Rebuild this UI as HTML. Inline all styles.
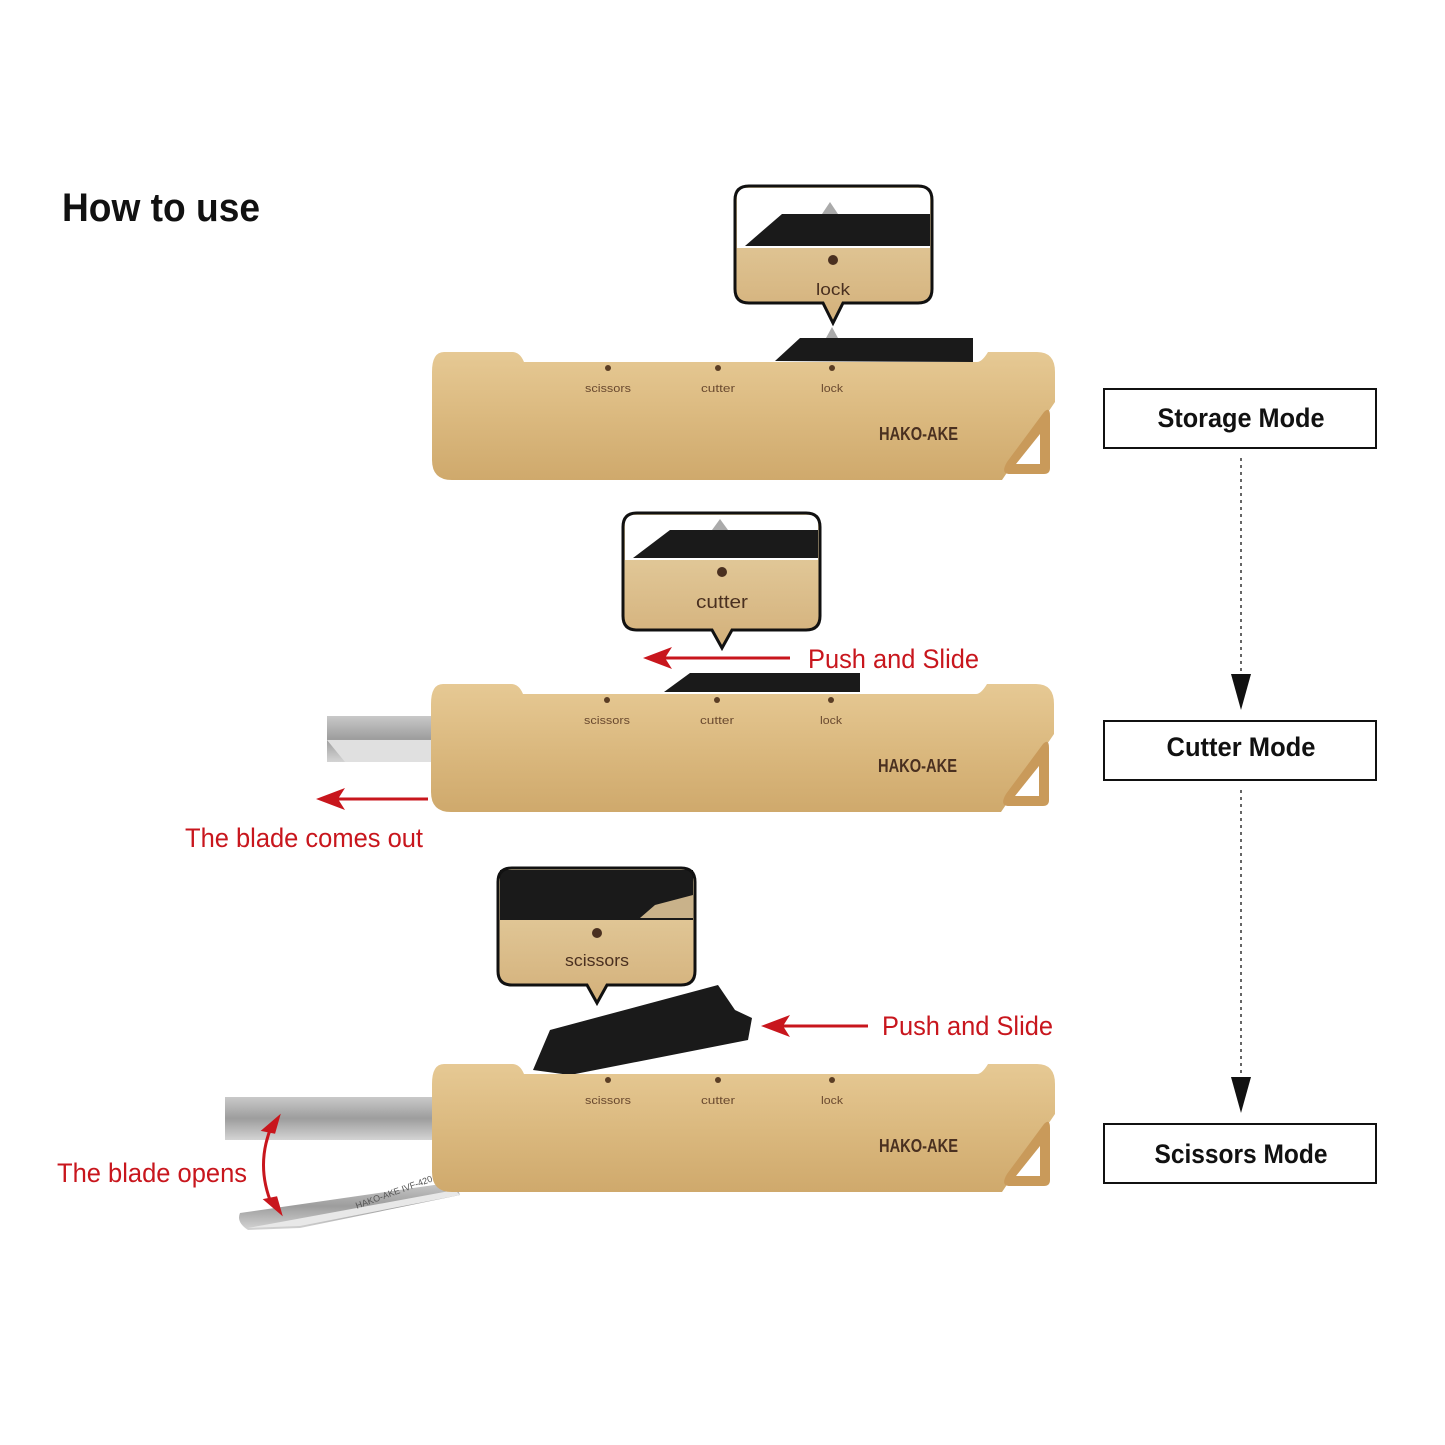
<!DOCTYPE html>
<html><head><meta charset="utf-8"><style>
html,body{margin:0;padding:0;background:#fff}
svg{display:block}
text{font-family:"Liberation Sans",sans-serif}
</style></head><body>
<svg width="1445" height="1445" viewBox="0 0 1445 1445" xmlns="http://www.w3.org/2000/svg">
<defs>
<linearGradient id="tan" x1="0" y1="0" x2="0" y2="1">
<stop offset="0" stop-color="#e6c994"/><stop offset="0.5" stop-color="#dbb97f"/><stop offset="1" stop-color="#cfa96c"/>
</linearGradient>
<linearGradient id="tan2" x1="0" y1="0" x2="0" y2="1">
<stop offset="0" stop-color="#e8d3a6"/><stop offset="1" stop-color="#d3b07a"/>
</linearGradient>
<linearGradient id="steel" x1="0" y1="0" x2="0" y2="1">
<stop offset="0" stop-color="#c9c9c9"/><stop offset="0.5" stop-color="#9d9d9d"/><stop offset="1" stop-color="#d4d4d4"/>
</linearGradient>
<g id="body">
<path d="M12,2 H80 Q88,2 92,12 H545 Q550,12 556,2 H605 Q623,2 623,22 V52 L570,130 H20 Q0,130 0,110 V22 Q0,2 12,2 Z" fill="url(#tan)"/>
<path d="M575,112 L612,62 Q618,56 618,66 V118 Q618,124 612,124 H578 Q568,124 575,112 Z" fill="#c99a5a"/>
<path d="M584,114 L608,84 V114 Z" fill="#fff"/>
<circle cx="176" cy="18" r="3" fill="#5a3d24"/><circle cx="286" cy="18" r="3" fill="#5a3d24"/><circle cx="400" cy="18" r="3" fill="#5a3d24"/>
<text x="176" y="42" font-size="11" fill="#6a4a30" text-anchor="middle" textLength="46" lengthAdjust="spacingAndGlyphs">scissors</text>
<text x="286" y="42" font-size="11" fill="#6a4a30" text-anchor="middle" textLength="34" lengthAdjust="spacingAndGlyphs">cutter</text>
<text x="400" y="42" font-size="11" fill="#6a4a30" text-anchor="middle" textLength="22" lengthAdjust="spacingAndGlyphs">lock</text>
<text x="447" y="90" font-size="18" font-weight="bold" fill="#4a3020" textLength="79" lengthAdjust="spacingAndGlyphs">HAKO-AKE</text>
</g>
</defs>

<text x="62" y="221" font-size="40" font-weight="bold" fill="#111" textLength="198" lengthAdjust="spacingAndGlyphs">How to use</text>

<!-- Knife 1 -->
<path d="M775,361 L800,338 H973 V362 Z" fill="#1a1a1a"/>
<path d="M826,338 L832,327 L838,338 Z" fill="#aaa"/>
<use href="#body" x="432" y="350"/>

<!-- Callout 1 -->
<g>
<path d="M749,186 H918 Q932,186 932,200 V289 Q932,303 918,303 H843 L833,323 L823,303 H749 Q735,303 735,289 V200 Q735,186 749,186 Z" fill="url(#tan2)"/>
<path d="M737,188 H930 V248 H737 Z" fill="#fff"/>
<path d="M745,246 L782,214 H930 V246 Z" fill="#1a1a1a"/>
<path d="M822,214 L830,202 L838,214 Z" fill="#aaa"/>
<path d="M749,186 H918 Q932,186 932,200 V289 Q932,303 918,303 H843 L833,323 L823,303 H749 Q735,303 735,289 V200 Q735,186 749,186 Z" fill="none" stroke="#111" stroke-width="3"/>
<circle cx="833" cy="260" r="5" fill="#4a3020"/>
<text x="833" y="295" font-size="17" fill="#4a3020" text-anchor="middle" textLength="34" lengthAdjust="spacingAndGlyphs">lock</text>
</g>

<!-- Knife 2 -->
<rect x="327" y="716" width="110" height="46" fill="url(#steel)"/>
<path d="M327,740 L345,762 H437 V740 Z" fill="#e0e0e0"/>
<path d="M664,692 L690,673 H860 V692 Z" fill="#1a1a1a"/>
<use href="#body" x="431" y="682"/>

<!-- Callout 2 -->
<g>
<path d="M637,513 H806 Q820,513 820,527 V616 Q820,630 806,630 H732 L722,648 L712,630 H637 Q623,630 623,616 V527 Q623,513 637,513 Z" fill="url(#tan2)"/>
<path d="M625,515 H818 V560 H625 Z" fill="#fff"/>
<path d="M633,558 L670,530 H818 V558 Z" fill="#1a1a1a"/>
<path d="M712,530 L720,519 L728,530 Z" fill="#aaa"/>
<path d="M637,513 H806 Q820,513 820,527 V616 Q820,630 806,630 H732 L722,648 L712,630 H637 Q623,630 623,616 V527 Q623,513 637,513 Z" fill="none" stroke="#111" stroke-width="3"/>
<circle cx="722" cy="572" r="5" fill="#4a3020"/>
<text x="722" y="608" font-size="18" fill="#4a3020" text-anchor="middle" textLength="52" lengthAdjust="spacingAndGlyphs">cutter</text>
</g>

<!-- red arrows -->
<g fill="#c8161d" stroke="#c8161d">
<line x1="790" y1="658" x2="660" y2="658" stroke-width="3"/>
<path d="M643,658 L672,647 L665,658 L672,669 Z" stroke="none"/>
<line x1="428" y1="799" x2="333" y2="799" stroke-width="3"/>
<path d="M316,799 L345,788 L338,799 L345,810 Z" stroke="none"/>
<line x1="868" y1="1026" x2="778" y2="1026" stroke-width="3"/>
<path d="M761,1026 L790,1015 L783,1026 L790,1037 Z" stroke="none"/>
</g>
<text x="808" y="668" font-size="27" fill="#c8161d" textLength="171" lengthAdjust="spacingAndGlyphs">Push and Slide</text>
<text x="185" y="847" font-size="27" fill="#c8161d" textLength="238" lengthAdjust="spacingAndGlyphs">The blade comes out</text>
<text x="882" y="1035" font-size="27" fill="#c8161d" textLength="171" lengthAdjust="spacingAndGlyphs">Push and Slide</text>
<text x="57" y="1182" font-size="27" fill="#c8161d" textLength="190" lengthAdjust="spacingAndGlyphs">The blade opens</text>

<!-- Knife 3 blades -->
<rect x="225" y="1097" width="215" height="43" fill="url(#steel)"/>
<path d="M455,1182 L240,1213 Q236,1222 248,1230 L300,1228 L460,1195 Z" fill="url(#steel)"/>
<path d="M248,1228 L300,1226 L460,1195 L455,1190 Z" fill="#e8e8e8"/>
<text x="395" y="1195" font-size="9" fill="#555" transform="rotate(-20 395 1195)" text-anchor="middle">HAKO-AKE IVF-420</text>
<path d="M272,1125 Q255,1165 272,1205" fill="none" stroke="#c8161d" stroke-width="3"/>
<path d="M278,1118 L264,1130 L274,1132 Z" fill="#c8161d" stroke="#c8161d" stroke-width="3"/>
<path d="M280,1212 L266,1200 L276,1198 Z" fill="#c8161d" stroke="#c8161d" stroke-width="3"/>

<!-- slider 3 -->
<path d="M533,1070 L550,1030 L718,985 L735,1010 L752,1018 L748,1040 L570,1075 Z" fill="#1a1a1a"/>
<use href="#body" x="432" y="1062"/>

<!-- Callout 3 -->
<g>
<path d="M512,868 H681 Q695,868 695,882 V971 Q695,985 681,985 H607 L597,1003 L587,985 H512 Q498,985 498,971 V882 Q498,868 512,868 Z" fill="url(#tan2)"/>
<path d="M500,870 H693 V920 H500 Z" fill="#1a1a1a"/>
<path d="M655,905 L693,895 V918 H640 Z" fill="#c9b28a"/>
<path d="M512,868 H681 Q695,868 695,882 V971 Q695,985 681,985 H607 L597,1003 L587,985 H512 Q498,985 498,971 V882 Q498,868 512,868 Z" fill="none" stroke="#111" stroke-width="3"/>
<circle cx="597" cy="933" r="5" fill="#4a3020"/>
<text x="597" y="966" font-size="17" fill="#4a3020" text-anchor="middle" textLength="64" lengthAdjust="spacingAndGlyphs">scissors</text>
</g>

<!-- Mode boxes -->
<g fill="#fff" stroke="#111" stroke-width="2">
<rect x="1104" y="389" width="272" height="59"/>
<rect x="1104" y="721" width="272" height="59"/>
<rect x="1104" y="1124" width="272" height="59"/>
</g>
<g font-size="27" font-weight="bold" fill="#111" text-anchor="middle">
<text x="1241" y="427" textLength="167" lengthAdjust="spacingAndGlyphs">Storage Mode</text>
<text x="1241" y="756" textLength="149" lengthAdjust="spacingAndGlyphs">Cutter Mode</text>
<text x="1241" y="1163" textLength="173" lengthAdjust="spacingAndGlyphs">Scissors Mode</text>
</g>
<g stroke="#333" stroke-width="1.5" stroke-dasharray="3,4">
<line x1="1241" y1="458" x2="1241" y2="680"/>
<line x1="1241" y1="790" x2="1241" y2="1080"/>
</g>
<path d="M1231,674 H1251 L1241,710 Z" fill="#111"/>
<path d="M1231,1077 H1251 L1241,1113 Z" fill="#111"/>
</svg>
</body></html>
